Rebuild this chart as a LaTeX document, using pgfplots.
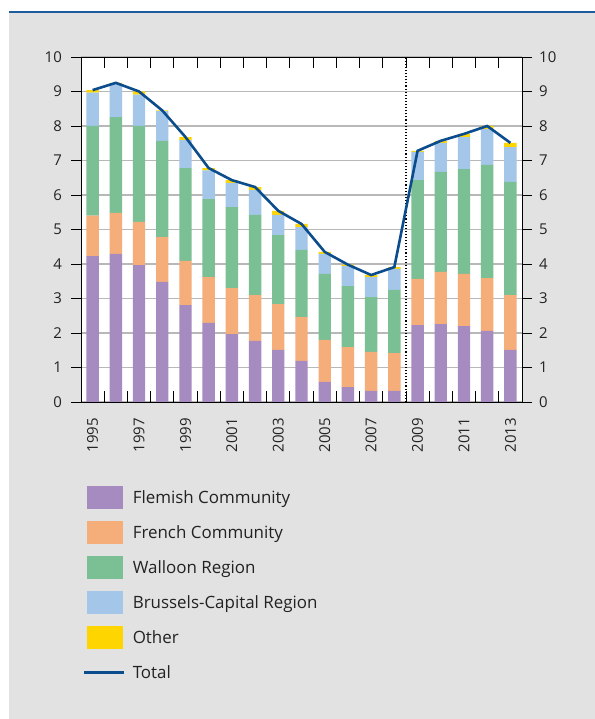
\documentclass[border=0pt]{standalone}
\usepackage{pgfplots}
\usepackage{pgfplotstable}
\pgfplotsset{compat=1.18}
\usepackage{fontspec}
\setmainfont{Open Sans}
\definecolor{flem}{HTML}{A68BC1}
\definecolor{fren}{HTML}{F5AD7A}
\definecolor{wall}{HTML}{7BBF95}
\definecolor{brus}{HTML}{A4C6E9}
\definecolor{oth}{HTML}{FFD500}
\definecolor{tot}{HTML}{0B4C8C}
\definecolor{bg}{HTML}{E2E2E2}
\definecolor{topline}{HTML}{1F5C9E}
\definecolor{txt}{HTML}{222222}
\pgfplotstableread{
x  flem fren wall brus oth total
0  4.23 1.17 2.60 0.97 0.07 9.04
1  4.29 1.19 2.78 0.95 0.04 9.25
2  3.97 1.25 2.78 0.91 0.09 9.00
3  3.48 1.30 2.79 0.86 0.02 8.45
4  2.81 1.28 2.69 0.81 0.09 7.68
5  2.29 1.33 2.26 0.83 0.07 6.78
6  1.97 1.33 2.35 0.70 0.08 6.43
7  1.77 1.33 2.32 0.72 0.09 6.23
8  1.51 1.33 2.00 0.58 0.12 5.54
9  1.19 1.27 1.95 0.66 0.09 5.16
10 0.58 1.22 1.91 0.58 0.06 4.35
11 0.43 1.16 1.77 0.58 0.04 3.98
12 0.32 1.13 1.59 0.58 0.06 3.68
13 0.32 1.10 1.83 0.61 0.05 3.91
14 2.23 1.34 2.86 0.82 0.03 7.28
15 2.26 1.51 2.90 0.84 0.06 7.57
16 2.20 1.51 3.04 0.93 0.09 7.77
17 2.06 1.53 3.28 1.04 0.09 8.00
18 1.51 1.59 3.28 1.01 0.12 7.51
}\datatable
\pgfplotsset{
  swatch/.style={legend image code/.code={\fill[##1] (3bp,-11.5bp) rectangle (39bp,11.5bp);}},
}
\begin{document}
\begin{tikzpicture}[x=1bp,y=1bp]
\useasboundingbox (0,0) rectangle (595,719);
\fill[white] (0,0) rectangle (595,719);
\fill[bg] (9,0) rectangle (595,705.5);
\draw[topline, line width=1.8bp] (9,706.6) -- (595,706.6);
\begin{axis}[
  at={(81bp,317bp)}, anchor=south west,
  scale only axis, width=441bp, height=345bp,
  xmin=-0.5, xmax=18.5, ymin=0, ymax=10,
  ybar stacked, bar width=12.4bp,
  axis background/.style={fill=white},
  axis line style={black, line width=0.9bp},
  xtick={0,2,...,18},
  xticklabels={1995,1997,1999,2001,2003,2005,2007,2009,2011,2013},
  major x tick style={draw=none},
  minor xtick={0.5,1.5,...,17.5},
  minor x tick style={black, line width=0.9bp},
  minor tick length=11bp,
  xtick align=inside,
  ytick={0,1,...,10},
  ytick pos=left,
  ytick align=outside,
  major tick length=10bp,
  y tick style={black, line width=0.9bp},
  ymajorgrids,
  grid style={color=black!28, line width=1.2bp},
  tick label style={font=\fontsize{15}{15}\selectfont, text=txt},
  /pgf/number format/assume math mode=true,
  xticklabel style={rotate=90, anchor=east, inner sep=0pt},
  xticklabel shift=16bp,
  yticklabel style={inner sep=0pt},
  yticklabel shift=9bp,
  legend style={at={(0.0045,-0.2435)}, anchor=north west, draw=none, fill=none,
    inner sep=0pt, row sep=12bp, column sep=0bp,
    nodes={inner sep=0pt, text=txt, font=\fontsize{17}{17}\selectfont}},
  legend cell align=left,
  legend columns=1,
]
\addplot[fill=flem, draw=none, swatch] table[x=x, y=flem] {\datatable};
\addlegendentry{\hspace{7bp}Flemish Community}
\addplot[fill=fren, draw=none, swatch] table[x=x, y=fren] {\datatable};
\addlegendentry{\hspace{7bp}French Community}
\addplot[fill=wall, draw=none, swatch] table[x=x, y=wall] {\datatable};
\addlegendentry{\hspace{7bp}Walloon Region}
\addplot[fill=brus, draw=none, swatch] table[x=x, y=brus] {\datatable};
\addlegendentry{\hspace{7bp}Brussels-Capital Region}
\addplot[fill=oth, draw=none, swatch] table[x=x, y=oth] {\datatable};
\addlegendentry{\hspace{7bp}Other}
\addlegendimage{legend image code/.code={\path[draw=none, fill=none] (0bp,-11.5bp) rectangle (39bp,11.5bp); \draw[tot, line width=2.6bp] (0bp,0bp) -- (40bp,0bp);}}
\addlegendentry{\hspace{7bp}Total}
\end{axis}
\begin{axis}[
  at={(81bp,317bp)}, anchor=south west,
  scale only axis, width=441bp, height=345bp,
  xmin=-0.5, xmax=18.5, ymin=0, ymax=10,
  axis x line=none, axis y line*=right,
  axis line style={black, line width=0.9bp},
  ytick={0,1,...,10},
  ytick align=outside,
  major tick length=10bp,
  y tick style={black, line width=0.9bp},
  tick label style={font=\fontsize{15}{15}\selectfont, text=txt},
  /pgf/number format/assume math mode=true,
  yticklabel style={inner sep=0pt},
  yticklabel shift=7bp,
]
\addplot[black, dotted, line width=1.1bp] coordinates {(13.5,0) (13.5,10)};
\addplot[tot, line width=2.6bp, mark=none] table[x=x, y=total] {\datatable};
\end{axis}
\end{tikzpicture}
\end{document}
